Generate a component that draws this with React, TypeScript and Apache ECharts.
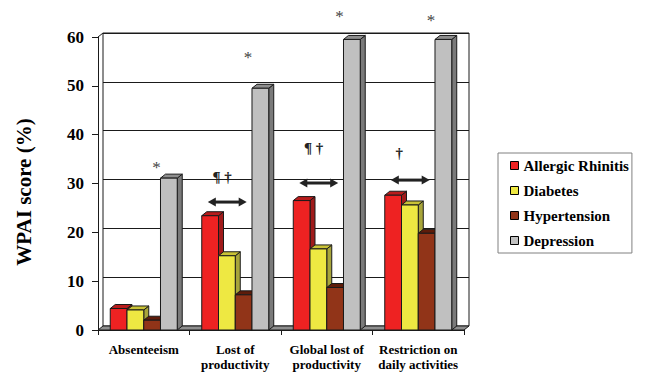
import React, { useEffect, useRef } from "react";
import * as echarts from "echarts";

const categories = [
  "Absenteeism",
  "Lost of\nproductivity",
  "Global lost of\nproductivity",
  "Restriction on\ndaily activities",
];
const seriesNames = ["Allergic Rhinitis", "Diabetes", "Hypertension", "Depression"];
const allergicRhinitis = [4.4, 23.4, 26.5, 27.6];
const diabetes = [4.1, 15.2, 16.6, 25.6];
const hypertension = [2.0, 7.2, 8.7, 19.8];
const depression = [31.1, 49.5, 59.5, 59.5];
const yTicks = [0, 10, 20, 30, 40, 50, 60];

// significance annotations (in value units)
const starMarks = ["*", "*", "*", "*"];
const starLevels = [33.2, 55.7, 64.3, 63.3];
const symbolMarks = ["", "¶ †", "¶ †", "†"];
const symbolLevels = [null, 31.3, 37.3, 36.2];
const arrowLevels = [null, 26.2, 30.1, 30.7];

const FONT = "Liberation Serif, Times New Roman, serif";
const DX = 5;
const DY = 4;
const BAR_FRAC = 0.183;
const STROKE = "#1a1a1a";

const palette = [
  { front: "#EE2222", top: "#B81C1C", side: "#A01A1A" },
  { front: "#EEE842", top: "#C9C236", side: "#A8A53A" },
  { front: "#913418", top: "#5E1C0A", side: "#6A2410" },
  { front: "#C0C0C0", top: "#8E8E8E", side: "#7A7A7A" },
];
const seriesValues = [allergicRhinitis, diabetes, hypertension, depression];

function barSeries(idx: number) {
  const c = palette[idx];
  return {
    type: "custom",
    name: seriesNames[idx],
    xAxisIndex: 1,
    yAxisIndex: 1,
    z: 3,
    itemStyle: { color: c.front },
    data: seriesValues[idx].map((v, i) => [i, v]),
    renderItem: (params: any, api: any) => {
      const ci = api.value(0);
      const v = api.value(1);
      const base = api.coord([ci, 0]);
      const top = api.coord([ci, v]);
      const catW = api.size([1, 0])[0];
      const bw = catW * BAR_FRAC;
      const x0 = base[0] - 2 * bw + idx * bw;
      const yb = base[1];
      const yt = top[1];
      const st = { stroke: STROKE, lineWidth: 1 };
      return {
        type: "group",
        children: [
          {
            type: "polygon",
            shape: { points: [[x0 + bw, yt], [x0 + bw + DX, yt - DY], [x0 + bw + DX, yb - DY], [x0 + bw, yb]] },
            style: { fill: c.side, ...st },
          },
          {
            type: "polygon",
            shape: { points: [[x0, yt], [x0 + DX, yt - DY], [x0 + bw + DX, yt - DY], [x0 + bw, yt]] },
            style: { fill: c.top, ...st },
          },
          {
            type: "rect",
            shape: { x: x0, y: yt, width: bw, height: yb - yt },
            style: { fill: c.front, ...st },
          },
        ],
      };
    },
  };
}

export default function App() {
  const ref = useRef<HTMLDivElement>(null);
  useEffect(() => {
    if (!ref.current) return;
    const chart = echarts.init(ref.current, null, { renderer: "svg" });
    const floorSeries = {
      type: "custom",
      name: "floor",
      xAxisIndex: 1,
      yAxisIndex: 1,
      z: 1,
      silent: true,
      itemStyle: { color: "#8f8f8f" },
      data: [[0]],
      renderItem: (params: any, api: any) => {
        const catW = api.size([1, 0])[0];
        const first = api.coord([0, 0]);
        const last = api.coord([categories.length - 1, 0]);
        const topPt = api.coord([0, 60]);
        const L = first[0] - catW / 2;
        const R = last[0] + catW / 2;
        const y0 = first[1];
        return {
          type: "group",
          children: [
            {
              type: "polygon",
              shape: { points: [[L, y0], [L + DX, y0 - DY], [R + DX, y0 - DY], [R, y0]] },
              style: { fill: "#8f8f8f", stroke: STROKE, lineWidth: 1 },
            },
            {
              type: "line",
              shape: { x1: L, y1: topPt[1], x2: L + DX, y2: topPt[1] - DY },
              style: { stroke: STROKE, lineWidth: 1 },
            },
          ],
        };
      },
    };
    const annotSeries = {
      type: "custom",
      name: "annotations",
      xAxisIndex: 1,
      yAxisIndex: 1,
      z: 5,
      silent: true,
      clip: false,
      itemStyle: { color: "#222" },
      data: categories.map((_, i) => [i]),
      renderItem: (params: any, api: any) => {
        const i = params.dataIndex;
        const catW = api.size([1, 0])[0];
        const cx = api.coord([i, 0])[0];
        const children: any[] = [];
        if (starMarks[i]) {
          const y = api.coord([i, starLevels[i]])[1];
          children.push({
            type: "text",
            x: cx + 0.14 * catW,
            y,
            style: {
              text: starMarks[i],
              fill: "#444",
              textFill: "#444",
              fontSize: 17,
              fontFamily: FONT,
              align: "center",
              verticalAlign: "middle",
            },
          });
        }
        const xl = cx - 0.3 * catW;
        const xr = cx + 0.125 * catW;
        if (arrowLevels[i] != null) {
          const y = api.coord([i, arrowLevels[i] as number])[1];
          const hw = 8;
          const hh = 4.5;
          children.push(
            {
              type: "line",
              shape: { x1: xl + hw - 1, y1: y, x2: xr - hw + 1, y2: y },
              style: { stroke: "#222", lineWidth: 3 },
            },
            {
              type: "polygon",
              shape: { points: [[xl, y], [xl + hw, y - hh], [xl + hw, y + hh]] },
              style: { fill: "#222" },
            },
            {
              type: "polygon",
              shape: { points: [[xr, y], [xr - hw, y - hh], [xr - hw, y + hh]] },
              style: { fill: "#222" },
            }
          );
        }
        if (symbolMarks[i] && symbolLevels[i] != null) {
          const y = api.coord([i, symbolLevels[i] as number])[1];
          children.push({
            type: "text",
            x: xl + 0.05 * catW,
            y,
            style: {
              text: symbolMarks[i],
              fill: "#222",
              textFill: "#222",
              fontSize: 15,
              fontWeight: "bold",
              fontFamily: FONT,
              align: "left",
              verticalAlign: "middle",
            },
          });
        }
        return { type: "group", children };
      },
    };

    chart.setOption({
      animation: false,
      backgroundColor: "#fff",
      textStyle: { fontFamily: FONT },
      legend: {
        orient: "vertical",
        left: 498,
        top: 153,
        padding: [5, 3, 5, 12],
        borderColor: "#808080",
        borderWidth: 1,
        itemWidth: 8,
        itemHeight: 8,
        itemGap: 10,
        icon: "rect",
        itemStyle: { borderColor: "#000", borderWidth: 1 },
        textStyle: { fontFamily: FONT, fontSize: 15, fontWeight: "bold", color: "#000", lineHeight: 15 },
        data: seriesNames.map((n, i) => ({ name: n, itemStyle: { color: palette[i].front } })),
      },
      grid: [
        { left: 98 + DX, top: 37 - DY, width: 366, height: 293, show: true, borderColor: STROKE, borderWidth: 1, backgroundColor: "#fff" },
        { left: 98, top: 37, width: 366, height: 293 },
      ],
      xAxis: [
        { type: "category", gridIndex: 0, data: categories, show: false },
        {
          type: "category",
          gridIndex: 1,
          data: categories,
          axisLine: { show: true, lineStyle: { color: STROKE, width: 1 } },
          axisTick: { show: true, length: 5, alignWithLabel: false, lineStyle: { color: STROKE } },
          axisLabel: {
            interval: 0,
            margin: 12,
            fontFamily: FONT,
            fontSize: 13,
            fontWeight: "bold",
            color: "#000",
            lineHeight: 15,
          },
        },
      ],
      yAxis: [
        {
          type: "value",
          gridIndex: 0,
          min: yTicks[0],
          max: yTicks[yTicks.length - 1],
          interval: 10,
          axisLine: { show: false },
          axisTick: { show: false },
          axisLabel: { show: false },
          splitLine: { show: true, lineStyle: { color: STROKE, width: 1 } },
        },
        {
          type: "value",
          gridIndex: 1,
          min: yTicks[0],
          max: yTicks[yTicks.length - 1],
          interval: 10,
          axisLine: { show: true, lineStyle: { color: STROKE, width: 1 } },
          axisTick: { show: true, length: 6, lineStyle: { color: STROKE } },
          axisLabel: { margin: 14, fontFamily: FONT, fontSize: 17, fontWeight: "bold", color: "#000" },
          splitLine: { show: false },
        },
      ],
      graphic: [
        {
          type: "text",
          x: 24,
          y: 192,
          rotation: Math.PI / 2,
          style: {
            text: "WPAI score (%)",
            fontFamily: FONT,
            fontSize: 21,
            fontWeight: "bold",
            fill: "#000",
            align: "center",
            verticalAlign: "middle",
          },
        },
      ],
      series: [floorSeries, barSeries(0), barSeries(1), barSeries(2), barSeries(3), annotSeries],
    });
    return () => chart.dispose();
  }, []);
  return <div ref={ref} style={{ position: "absolute", left: 0, top: 0, width: 652, height: 373 }} />;
}
